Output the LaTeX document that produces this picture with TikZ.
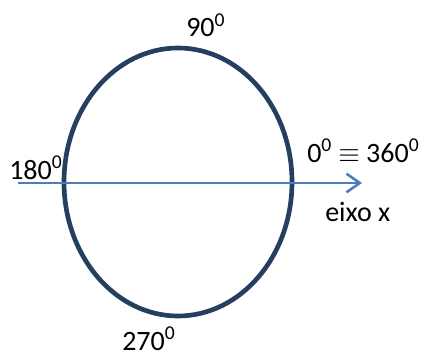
\documentclass[tikz,border=0pt]{standalone}
\usepackage{fontspec}
\setmainfont{Carlito}
\usetikzlibrary{arrows.meta}
\definecolor{circlenavy}{HTML}{243F60}
\definecolor{axisblue}{HTML}{4A7EBB}
\begin{document}
\begin{tikzpicture}[x=.75pt, y=-.75pt,
		angle/.style={inner sep=0pt, anchor=base west, font=\fontsize{21}{25}\selectfont},
		axis/.style={axisblue, line width=1.9pt, -{Straight Barb[length=10pt, width=14pt]}}]
		\useasboundingbox (0, 0) rectangle (427, 356);
		% circle of the angles
		\draw[circlenavy, line width=3.5pt] (178, 182) ellipse [x radius=114, y radius=134];
		% x axis
		\coordinate (start) at (18, 183);
		\coordinate (tip) at (362, 183);
		\draw[axis] (start) -- (tip);
		% angle labels
		\node[angle] (a90) at (186, 37) {90\textsuperscript{0}};
		\node[angle] (a180) at (9, 179) {180\textsuperscript{0}};
		\node[angle] (a0) at (307, 162) {0\textsuperscript{0} $\equiv$ 360\textsuperscript{0}};
		\node[angle] (a270) at (122, 350) {270\textsuperscript{0}};
		\node[angle] (eixo) at (325, 221) {eixo x};
	\end{tikzpicture}
\end{document}
